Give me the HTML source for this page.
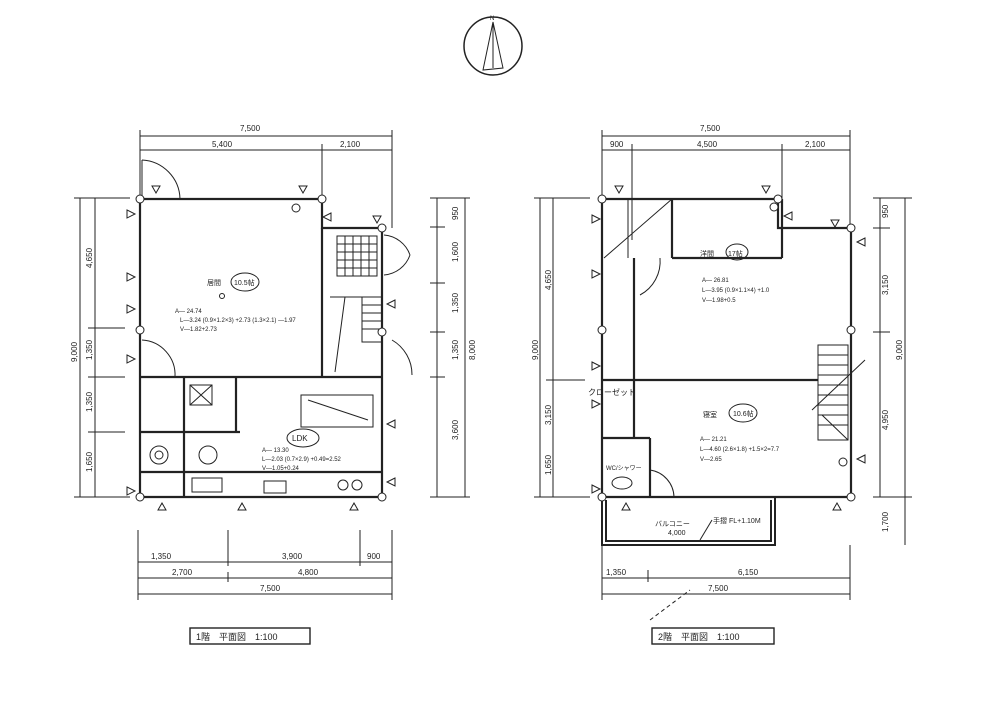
<!DOCTYPE html>
<html><head><meta charset="utf-8"><style>
html,body{margin:0;padding:0;background:#fff}
svg{display:block}
text{font-family:"Liberation Sans","Noto Sans CJK JP",sans-serif;fill:#222}
</style></head><body>
<svg width="1000" height="706" viewBox="0 0 1000 706" xmlns="http://www.w3.org/2000/svg">
<g stroke="#222" fill="none" stroke-width="1">
<circle cx="493" cy="46" r="29" stroke-width="1.5"/>
<path d="M483 70 L493 22 L503 68 Z"/>
<path d="M493 22 L493 68" />
<text x="490" y="20" font-size="6" stroke="none">N</text>

<line x1="140" y1="136" x2="392" y2="136"/>
<line x1="140" y1="150" x2="392" y2="150"/>
<line x1="140" y1="130" x2="140" y2="199"/>
<line x1="392" y1="130" x2="392" y2="228"/>
<line x1="322" y1="144" x2="322" y2="228"/>
<line x1="80" y1="198" x2="80" y2="497"/>
<line x1="95" y1="198" x2="95" y2="497"/>
<line x1="74" y1="198" x2="130" y2="198"/>
<line x1="74" y1="497" x2="130" y2="497"/>
<line x1="88" y1="328" x2="125" y2="328"/>
<line x1="88" y1="377" x2="125" y2="377"/>
<line x1="88" y1="432" x2="125" y2="432"/>
<line x1="437" y1="198" x2="437" y2="497"/>
<line x1="465" y1="198" x2="465" y2="497"/>
<line x1="430" y1="198" x2="470" y2="198"/>
<line x1="430" y1="227" x2="445" y2="227"/>
<line x1="430" y1="283" x2="445" y2="283"/>
<line x1="430" y1="332" x2="445" y2="332"/>
<line x1="430" y1="377" x2="445" y2="377"/>
<line x1="430" y1="497" x2="470" y2="497"/>
<line x1="138" y1="562" x2="392" y2="562"/>
<line x1="138" y1="578" x2="392" y2="578"/>
<line x1="138" y1="594" x2="392" y2="594"/>
<line x1="138" y1="530" x2="138" y2="600"/>
<line x1="392" y1="530" x2="392" y2="600"/>
<line x1="228" y1="530" x2="228" y2="566"/>
<line x1="360" y1="530" x2="360" y2="566"/>
<line x1="228" y1="572" x2="228" y2="582"/>
<g stroke-width="2.2">
<path d="M140 199 L322 199 L322 228 L382 228 L382 497 L140 497 Z"/>
<line x1="140" y1="377" x2="382" y2="377"/>
<line x1="322" y1="228" x2="322" y2="377"/>
<line x1="140" y1="432" x2="240" y2="432"/>
<line x1="184" y1="377" x2="184" y2="497"/>
<line x1="236" y1="377" x2="236" y2="432"/>
<line x1="140" y1="472" x2="382" y2="472"/>
</g>
<rect x="337" y="236" width="40" height="40"/>
<path d="M337 244 H377 M337 252 H377 M337 260 H377 M337 268 H377 M345 236 V276 M353 236 V276 M361 236 V276 M369 236 V276"/>
<rect x="362" y="297" width="20" height="45"/>
<path d="M362 305 H382 M362 313 H382 M362 321 H382 M362 329 H382"/>
<path d="M330 297 L362 297 M345 297 L335 372"/>
<path d="M142 160 A40 40 0 0 1 180 199"/>
<path d="M142 160 V199"/>
<path d="M142 340 A35 35 0 0 1 175 377"/>
<path d="M384 235 A30 30 0 0 1 410 255"/>
<path d="M384 275 A30 30 0 0 0 410 255"/>
<path d="M392 340 A40 40 0 0 1 412 375"/>
<rect x="301" y="395" width="72" height="32"/>
<path d="M308 400 L368 420"/>
<circle cx="159" cy="455" r="9"/><circle cx="159" cy="455" r="4"/>
<circle cx="208" cy="455" r="9"/>
<rect x="190" y="385" width="22" height="20"/><path d="M190 385 L212 405 M212 385 L190 405"/>
<rect x="264" y="481" width="22" height="12"/>
<rect x="192" y="478" width="30" height="14"/>
<circle cx="343" cy="485" r="5"/><circle cx="357" cy="485" r="5"/>
<g fill="#fff"><circle cx="140" cy="199" r="4"/><circle cx="322" cy="199" r="4"/><circle cx="382" cy="228" r="4"/><circle cx="382" cy="497" r="4"/><circle cx="140" cy="497" r="4"/><circle cx="140" cy="330" r="4"/><circle cx="382" cy="332" r="4"/><circle cx="296" cy="208" r="4"/></g>
<g stroke-width="1">
<path d="M127 210 l8 4 -8 4z M127 273 l8 4 -8 4z M127 305 l8 4 -8 4z M127 355 l8 4 -8 4z M127 487 l8 4 -8 4z"/>
<path d="M152 186 l8 0 -4 7z M299 186 l8 0 -4 7z M373 216 l8 0 -4 7z"/>
<path d="M238 510 l8 0 -4 -7z M158 510 l8 0 -4 -7z M350 510 l8 0 -4 -7z"/>
<path d="M331 213 l-8 4 8 4z M395 300 l-8 4 8 4z M395 420 l-8 4 8 4z M395 478 l-8 4 8 4z"/>
</g>
<ellipse cx="245" cy="282" rx="14" ry="9"/>
<ellipse cx="303" cy="438" rx="16" ry="9"/>
<circle cx="222" cy="296" r="2.5"/>

<line x1="602" y1="136" x2="850" y2="136"/>
<line x1="602" y1="150" x2="850" y2="150"/>
<line x1="602" y1="130" x2="602" y2="199"/>
<line x1="850" y1="130" x2="850" y2="228"/>
<line x1="632" y1="144" x2="632" y2="240"/>
<line x1="782" y1="144" x2="782" y2="210"/>
<line x1="540" y1="198" x2="540" y2="497"/>
<line x1="553" y1="198" x2="553" y2="497"/>
<line x1="534" y1="198" x2="590" y2="198"/>
<line x1="534" y1="497" x2="590" y2="497"/>
<line x1="546" y1="380" x2="585" y2="380"/>
<line x1="880" y1="198" x2="880" y2="497"/>
<line x1="905" y1="198" x2="905" y2="545"/>
<line x1="873" y1="198" x2="912" y2="198"/>
<line x1="873" y1="228" x2="890" y2="228"/>
<line x1="873" y1="332" x2="890" y2="332"/>
<line x1="873" y1="497" x2="912" y2="497"/>
<line x1="602" y1="578" x2="850" y2="578"/>
<line x1="602" y1="594" x2="850" y2="594"/>
<line x1="602" y1="545" x2="602" y2="600"/>
<line x1="850" y1="545" x2="850" y2="600"/>
<line x1="648" y1="570" x2="648" y2="582"/>
<g stroke-width="2.2">
<path d="M602 199 L778 199 L778 228 L851 228 L851 497 L602 497 Z"/>
<line x1="602" y1="380" x2="818" y2="380"/>
<line x1="672" y1="258" x2="782" y2="258"/>
<line x1="782" y1="199" x2="782" y2="258"/>
<line x1="672" y1="199" x2="672" y2="258"/>
<line x1="634" y1="258" x2="634" y2="438"/>
<line x1="602" y1="438" x2="650" y2="438"/>
<line x1="650" y1="438" x2="650" y2="497"/>
</g>
<path d="M604 258 L672 199 M628 199 V258"/>
<path d="M660 258 A38 38 0 0 1 640 295"/>
<path d="M650 470 A28 28 0 0 1 674 497"/>
<ellipse cx="622" cy="483" rx="10" ry="6"/>
<rect x="818" y="345" width="30" height="95"/>
<path d="M818 355 H848 M818 365 H848 M818 375 H848 M818 385 H848 M818 395 H848 M818 405 H848 M818 415 H848 M818 425 H848"/>
<path d="M812 410 L865 360 M822 415 L848 440"/>
<g stroke-width="2"><path d="M602 497 L602 545 L775 545 L775 497"/><path d="M606 500 L606 541 L771 541 L771 500"/></g>
<line x1="712" y1="520" x2="700" y2="540"/>
<line x1="650" y1="620" x2="690" y2="590" stroke-dasharray="4 3"/>
<g fill="#fff"><circle cx="602" cy="199" r="4"/><circle cx="778" cy="199" r="4"/><circle cx="851" cy="228" r="4"/><circle cx="851" cy="497" r="4"/><circle cx="602" cy="497" r="4"/><circle cx="602" cy="330" r="4"/><circle cx="851" cy="330" r="4"/><circle cx="774" cy="207" r="4"/><circle cx="843" cy="462" r="4"/></g>
<g>
<path d="M592 215 l8 4 -8 4z M592 270 l8 4 -8 4z M592 362 l8 4 -8 4z M592 400 l8 4 -8 4z M592 485 l8 4 -8 4z"/>
<path d="M615 186 l8 0 -4 7z M762 186 l8 0 -4 7z M831 220 l8 0 -4 7z"/>
<path d="M622 510 l8 0 -4 -7z M833 510 l8 0 -4 -7z"/>
<path d="M792 212 l-8 4 8 4z M865 238 l-8 4 8 4z M865 455 l-8 4 8 4z"/>
</g>
<ellipse cx="737" cy="252" rx="11" ry="8"/>
<ellipse cx="743" cy="413" rx="14" ry="9"/>
<rect x="190" y="628" width="120" height="16" stroke-width="1.4"/>
<rect x="652" y="628" width="122" height="16" stroke-width="1.4"/>
</g>

<g font-size="8">
<text x="240" y="131">7,500</text>
<text x="212" y="147">5,400</text>
<text x="340" y="147">2,100</text>
<text x="700" y="131">7,500</text>
<text x="610" y="147">900</text>
<text x="697" y="147">4,500</text>
<text x="805" y="147">2,100</text>
<text x="151" y="559">1,350</text>
<text x="282" y="559">3,900</text>
<text x="367" y="559">900</text>
<text x="172" y="575">2,700</text>
<text x="298" y="575">4,800</text>
<text x="260" y="591">7,500</text>
<text x="606" y="575">1,350</text>
<text x="738" y="575">6,150</text>
<text x="708" y="591">7,500</text>
<text x="207" y="285" font-size="7">居間</text>
<text x="234" y="285" font-size="7">10.5帖</text>
<text x="175" y="313" font-size="6">A— 24.74</text>
<text x="180" y="322" font-size="6">L—3.24 (0.9×1.2×3) +2.73 (1.3×2.1) —1.97</text>
<text x="180" y="331" font-size="6">V—1.82+2.73</text>
<text x="292" y="441" font-size="8">LDK</text>
<text x="262" y="452" font-size="6">A— 13.30</text>
<text x="262" y="461" font-size="6">L—2.03 (0.7×2.9) +0.49=2.52</text>
<text x="262" y="470" font-size="6">V—1.05+0.24</text>
<text x="700" y="256" font-size="7">洋間</text>
<text x="728" y="256" font-size="7">17帖</text>
<text x="702" y="282" font-size="6">A— 26.81</text>
<text x="702" y="292" font-size="6">L—3.95 (0.9×1.1×4) +1.0</text>
<text x="702" y="302" font-size="6">V—1.98+0.5</text>
<text x="703" y="417" font-size="7">寝室</text>
<text x="733" y="416" font-size="7">10.6帖</text>
<text x="700" y="441" font-size="6">A— 21.21</text>
<text x="700" y="451" font-size="6">L—4.60 (2.6×1.8) +1.5×2=7.7</text>
<text x="700" y="461" font-size="6">V—2.65</text>
<text x="588" y="395" font-size="8">クローゼット</text>
<text x="606" y="470" font-size="6">WC/シャワー</text>
<text x="655" y="526" font-size="7">バルコニー</text>
<text x="713" y="523" font-size="7">手摺 FL+1.10M</text>
<text x="668" y="535" font-size="7">4,000</text>
<text x="196" y="640" font-size="9">1階　平面図　1:100</text>
<text x="658" y="640" font-size="9">2階　平面図　1:100</text>
</g>
<g font-size="8">
<text transform="translate(92,268) rotate(-90)">4,650</text>
<text transform="translate(92,360) rotate(-90)">1,350</text>
<text transform="translate(92,412) rotate(-90)">1,350</text>
<text transform="translate(92,472) rotate(-90)">1,650</text>
<text transform="translate(77,362) rotate(-90)">9,000</text>
<text transform="translate(458,220) rotate(-90)">950</text>
<text transform="translate(458,262) rotate(-90)">1,600</text>
<text transform="translate(458,313) rotate(-90)">1,350</text>
<text transform="translate(458,360) rotate(-90)">1,350</text>
<text transform="translate(458,440) rotate(-90)">3,600</text>
<text transform="translate(475,360) rotate(-90)">8,000</text>
<text transform="translate(551,290) rotate(-90)">4,650</text>
<text transform="translate(538,360) rotate(-90)">9,000</text>
<text transform="translate(551,425) rotate(-90)">3,150</text>
<text transform="translate(551,475) rotate(-90)">1,650</text>
<text transform="translate(888,218) rotate(-90)">950</text>
<text transform="translate(888,295) rotate(-90)">3,150</text>
<text transform="translate(902,360) rotate(-90)">9,000</text>
<text transform="translate(888,430) rotate(-90)">4,950</text>
<text transform="translate(888,532) rotate(-90)">1,700</text>
</g>
</svg>
</body></html>
